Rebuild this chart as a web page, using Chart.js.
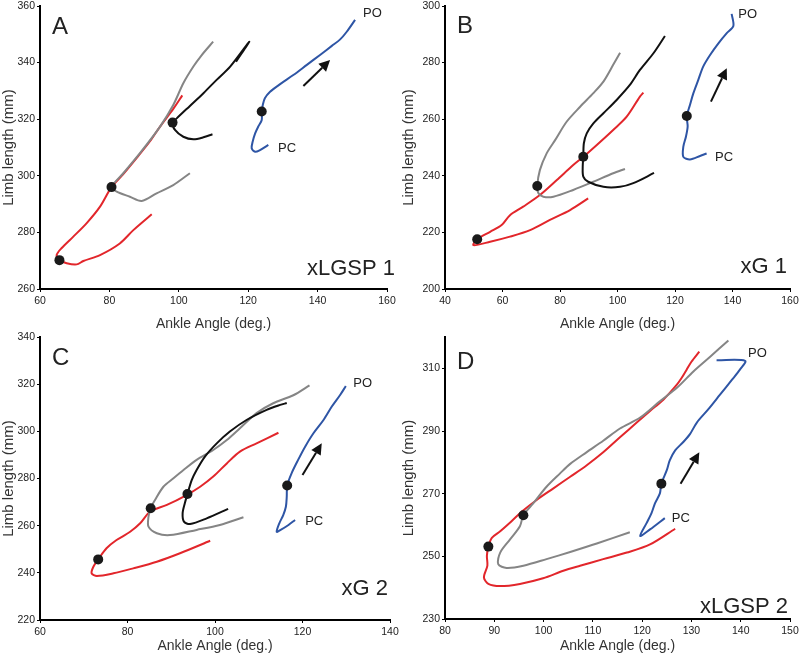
<!DOCTYPE html>
<html><head><meta charset="utf-8">
<script src="https://cdn.jsdelivr.net/npm/chart.js@4/dist/chart.umd.min.js"></script>
<style>
html,body{margin:0;padding:0;background:#fff;}
body{width:800px;height:664px;position:relative;overflow:hidden;}
canvas{position:absolute;display:block;}
</style></head>
<body>
<canvas id="cA" width="400" height="332" style="left:0;top:0"></canvas>
<canvas id="cB" width="400" height="332" style="left:400px;top:0"></canvas>
<canvas id="cC" width="400" height="332" style="left:0;top:332px"></canvas>
<canvas id="cD" width="400" height="332" style="left:400px;top:332px"></canvas>
<script>
const FONT = '"Liberation Sans", Arial, Helvetica, sans-serif';
const X_TITLE = 'Ankle Angle (deg.)';
const Y_TITLE = 'Limb length (mm)';

// ---------- Panel A (xLGSP 1) ----------
const A_xTicks = [60, 80, 100, 120, 140, 160];
const A_yTicks = [260, 280, 300, 320, 340, 360];
const A_red = [[101,328.4],[98.5,323.8],[94.6,317.4],[91.7,312.2],[88,306.5],[84,300.6],[80.6,296],[77.3,289.1],[73.4,283.2],[69.6,278.5],[66.2,274.4],[64.8,272],[65.6,270.2],[67.7,269.1],[70.6,268.7],[72.5,269.9],[77.3,272],[83,276.1],[86.9,280.8],[92.2,286.4]];
const A_gray = [[109.9,347.4],[106.5,342.5],[104.2,338.6],[101.3,332.7],[98.4,325],[94.6,317.4],[88.8,308],[84,300.9],[80.7,296.1],[82.1,294.4],[85.9,292.6],[89.3,291.1],[93.6,293.8],[98.4,296.7],[103.2,300.9]];
const A_black = [[109.7,314.7],[107.1,313.6],[104.2,312.9],[101.3,313.8],[98.9,316.2],[98.2,318.8],[99.4,320.3],[103.2,324.7],[107.1,329.2],[110.9,333.9],[114.8,338.6],[120.3,347.4],[116.5,340.3]];
const A_blue = [[150.8,355.1],[148.4,350.9],[146.5,348.2],[144.1,345.9],[140.7,342.7],[136.9,339.2],[133,335.6],[129.2,332.4],[126.3,329.7],[124.8,327.4],[124.2,325],[123.9,322.7],[123.9,319.7],[122.9,317.4],[122,315],[121.3,312.1],[121,309.7],[122,308.5],[123.4,309.1],[125.8,310.9]];
const A_dots = [[65.6,270.2],[80.6,296],[98.2,318.8],[123.9,322.7]];
const A_arrow = [[135.9,331.7],[143.6,340.9]];
const A_PO = [153.1,356.2];
const A_PC = [128.6,308.5];

// ---------- Panel B (xG 1) ----------
const B_xTicks = [40, 60, 80, 100, 120, 140, 160];
const B_yTicks = [200, 220, 240, 260, 280, 300];
const B_red = [[109,269.4],[107.8,268],[103.2,260.9],[98.5,256.2],[92.8,250.9],[88.1,246.7],[84.6,243.8],[78.9,238.5],[73,233.2],[67.2,229.1],[62.6,226.1],[59.7,222.6],[55.7,220.2],[51.2,217.6],[49.9,215.5],[55.7,216.7],[62.6,218.5],[69.6,220.8],[76.5,224.4],[83.5,227.9],[89.8,232]];
const B_gray = [[100.9,283.5],[98.5,279.2],[95.1,273.3],[91.6,269.2],[87,264.4],[82.3,259.1],[78.3,252.6],[75.4,248],[73,242],[72.1,236.4],[72.5,233.8],[74.2,232.6],[77.7,232.6],[84.6,235],[91.6,237.9],[98.5,240.9],[102.6,242.4]];
const B_black = [[116.5,289.4],[112.5,283.3],[107.8,277.4],[104.3,272.1],[99.7,266.8],[95.1,262.1],[91.6,258.5],[89.3,255],[88.3,251.5],[88.1,246.7],[87.9,243.2],[88.1,239.7],[89.8,237.9],[95.1,236.1],[100.9,236.1],[105.5,237.4],[112.7,241]];
const B_blue = [[139.7,297.2],[140.3,292.9],[138,290.4],[135.1,286.8],[132.2,282.7],[129.8,278.6],[128.1,273.9],[126.4,269.2],[125.2,265],[124.1,261.1],[124.4,257.4],[123.8,253.8],[122.9,250.3],[122.9,246.7],[125.2,245.8],[128.7,247],[131,247.9]];
const B_dots = [[51.2,217.6],[72.1,236.4],[88.1,246.7],[124.1,261.1]];
const B_arrow = [[132.5,266.2],[138,278]];
const B_PO = [142.0,295.7];
const B_PC = [133.9,245.3];

// ---------- Panel C (xG 2) ----------
const C_xTicks = [60, 80, 100, 120, 140];
const C_yTicks = [220, 240, 260, 280, 300, 320, 340];
const C_red = [[114.5,299.4],[109.5,294.9],[105.7,291.4],[102.7,286.4],[99.6,280.8],[96.6,276.5],[93.5,273],[89,268.8],[85.2,266],[82.9,261],[80.6,257.4],[77.5,253.9],[75.2,250.4],[73.3,245.7],[72.2,242.6],[71.8,239.8],[73,238.7],[76.8,239.8],[81.3,241.9],[86.7,244.7],[92,248.3],[98.9,253.6]];
const C_gray = [[121.6,319.5],[117.9,315.3],[113.3,311.9],[109.5,307.7],[105.7,301.3],[102.7,296.3],[99.6,292.1],[95.8,287.9],[92.8,283.6],[90.5,280.1],[88.2,276.5],[86.3,270.9],[85.3,267.4],[84.8,263.8],[84.8,259.6],[86.7,256.8],[89.7,256],[95.8,258.2],[101.1,260.3],[106.5,263.6]];
const C_black = [[116.4,312],[114.9,311.2],[111.8,309.1],[107.2,304.8],[103.4,299.9],[100.4,294.9],[97.7,289.3],[95.8,283.6],[94.7,279.4],[93.7,273.4],[93.1,269.5],[92.6,265.3],[92.9,261.7],[94.3,260.7],[98.1,263.1],[103,267.1]];
const C_blue = [[129.9,319.2],[128.6,315.4],[126.7,310.5],[124.8,304.8],[122.5,299.2],[120.6,293.5],[119,287.9],[117.5,282.2],[116.5,277],[116.4,272.3],[116.2,268],[115.6,264.5],[114.7,261],[114.1,257.4],[115,258.2],[116.8,260.3],[118.3,262.4]];
const C_dots = [[73.3,245.7],[85.3,267.4],[93.7,273.4],[116.5,277]];
const C_arrow = [[120,281.5],[124.4,294.9]];
const C_PO = [131.6,318.7];
const C_PC = [120.6,260.3];

// ---------- Panel D (xLGSP 2) ----------
const D_xTicks = [80, 90, 100, 110, 120, 130, 140, 150];
const D_yTicks = [230, 250, 270, 290, 310];
const D_red = [[131.6,315.3],[130,312.1],[129,309.5],[128,306.9],[127,304.7],[124.3,300],[121.6,296.4],[118.9,292.7],[115.5,288],[112.1,283.2],[108.7,279],[105.4,275.4],[102,271.7],[98.6,268],[95.6,264.3],[93.5,261.2],[91.2,258],[89.5,255.9],[88.8,253.1],[88.5,250.2],[88.6,247],[87.9,243.3],[88.8,241.2],[91.2,240.5],[95.2,241.2],[99.9,243],[104,245.4],[107.4,247],[112.1,249.1],[116.9,251.2],[121.6,253.8],[126.7,258.8]];
const D_gray = [[137.5,318.9],[133.8,313.7],[130.4,309],[127,303.7],[123.6,299.5],[119.6,294.3],[115.5,290.8],[112.1,286.9],[108.7,283.2],[105.4,279.5],[103.3,276.4],[100.6,272.2],[97.9,266.9],[95.9,263.1],[95.2,259.6],[93.2,255.4],[91.2,251.2],[90.8,247.5],[92.5,246.3],[95.9,247],[100.6,249.1],[105.4,251.4],[110.8,254.1],[117.5,257.7]];
const D_blue = [[135.1,312.6],[140.9,312.4],[139.8,309.5],[138.2,306.3],[135.8,301.6],[133.4,296.9],[131.1,292.7],[129.7,289],[128.3,286.4],[126.7,283.8],[125.6,280.6],[125,277.5],[123.9,273.2],[123.6,270.1],[122.6,266.9],[121.9,263.8],[120.9,260.6],[119.6,256.5],[121.6,258.6],[124.6,262.2]];
const D_dots = [[88.8,253.1],[95.9,263.1],[123.9,273.2]];
const D_arrow = [[127.8,273.2],[131.6,283.2]];
const D_PO = [141.5,313.5];
const D_PC = [126.0,261.0];

const RED = '#e2262b', GRAY = '#858585', BLACK = '#111111', BLUE = '#2e55a5';

const annotPlugin = {
  id: 'annot',
  afterDatasetsDraw(chart, args, o) {
    const ctx = chart.ctx, ca = chart.chartArea;
    const xs = chart.scales.x, ys = chart.scales.y;
    ctx.save();
    const x0 = xs.getPixelForValue(o.arrow[0][0]), y0 = ys.getPixelForValue(o.arrow[0][1]);
    const x1 = xs.getPixelForValue(o.arrow[1][0]), y1 = ys.getPixelForValue(o.arrow[1][1]);
    const ang = Math.atan2(y1 - y0, x1 - x0);
    const hl = 11, hw = 5.5;
    const bx = x1 - hl * Math.cos(ang), by = y1 - hl * Math.sin(ang);
    ctx.strokeStyle = '#111'; ctx.fillStyle = '#111'; ctx.lineWidth = 2;
    ctx.beginPath(); ctx.moveTo(x0, y0); ctx.lineTo(bx, by); ctx.stroke();
    ctx.beginPath(); ctx.moveTo(x1, y1);
    ctx.lineTo(bx + hw * Math.sin(ang), by - hw * Math.cos(ang));
    ctx.lineTo(bx - hw * Math.sin(ang), by + hw * Math.cos(ang));
    ctx.closePath(); ctx.fill();
    ctx.fillStyle = '#222';
    ctx.font = '13px ' + FONT;
    ctx.textAlign = 'left'; ctx.textBaseline = 'alphabetic';
    ctx.fillText('PO', xs.getPixelForValue(o.po[0]), ys.getPixelForValue(o.po[1]));
    ctx.fillText('PC', xs.getPixelForValue(o.pc[0]), ys.getPixelForValue(o.pc[1]));
    ctx.font = '24px ' + FONT;
    ctx.fillText(o.letter, ca.left + 12, ca.top + o.letterDy);
    ctx.textAlign = 'right';
    ctx.font = '22px ' + FONT;
    ctx.fillText(o.name, ca.right + o.nameDx, ca.bottom - o.nameDy);
    ctx.restore();
  }
};

function pts(arr) { return arr.map(p => ({x: p[0], y: p[1]})); }

function makePanel(id, p) {
  const lineDs = (data, color) => ({
    data: pts(data), showLine: true, borderColor: color, borderWidth: 2,
    pointRadius: 0, tension: 0.3, fill: false
  });
  new Chart(document.getElementById(id), {
    type: 'scatter',
    data: {
      datasets: [
        {data: pts(p.dots), showLine: false, pointRadius: 5, pointBackgroundColor: '#1a1a1a', pointBorderColor: '#1a1a1a', pointBorderWidth: 0},
        lineDs(p.blue, BLUE),
        ...(p.black ? [lineDs(p.black, BLACK)] : []),
        lineDs(p.gray, GRAY),
        lineDs(p.red, RED)
      ]
    },
    options: {
      responsive: false, animation: false,
      layout: {padding: {left: 0, top: p.top, right: 400 - p.right, bottom: 0}},
      plugins: {legend: {display: false}, tooltip: {enabled: false},
        annot: {arrow: p.arrow, po: p.po, pc: p.pc, letter: p.letter, name: p.name,
                letterDy: p.letterDy, nameDx: p.nameDx, nameDy: p.nameDy}},
      scales: {
        x: {
          type: 'linear', min: p.xTicks[0], max: p.xTicks[p.xTicks.length - 1],
          afterBuildTicks: s => { s.ticks = p.xTicks.map(v => ({value: v})); },
          afterFit: s => { s.height = 332 - p.bottom; s.paddingLeft = 0; s.paddingRight = 0; },
          ticks: {font: {family: FONT, size: 10.5}, color: '#222', padding: 3, maxRotation: 0, autoSkip: false},
          grid: {display: true, drawOnChartArea: false, drawTicks: true, tickLength: 3, color: '#000', lineWidth: 1},
          border: {display: true, color: '#000', width: 2},
          title: {display: true, text: X_TITLE, font: {family: FONT, size: 14}, color: '#333', padding: {top: 0, bottom: p.xTitlePad}}
        },
        y: {
          type: 'linear', min: p.yMin, max: p.yMax,
          afterBuildTicks: s => { s.ticks = p.yTicks.map(v => ({value: v})); },
          afterFit: s => { s.width = p.left; s.paddingTop = 0; s.paddingBottom = 0; },
          ticks: {font: {family: FONT, size: 10.5}, color: '#222', padding: 2, autoSkip: false},
          grid: {display: true, drawOnChartArea: false, drawTicks: true, tickLength: 3, color: '#000', lineWidth: 1},
          border: {display: true, color: '#000', width: 2},
          title: {display: true, text: Y_TITLE, font: {family: FONT, size: 15}, color: '#333', padding: {top: 0, bottom: 0}}
        }
      }
    },
    plugins: [annotPlugin]
  });
}

makePanel('cA', {xTicks: A_xTicks, yTicks: A_yTicks, yMin: 260, yMax: 360,
  red: A_red, gray: A_gray, black: A_black, blue: A_blue, dots: A_dots, arrow: A_arrow, po: A_PO, pc: A_PC,
  letter: 'A', name: 'xLGSP 1', left: 40, right: 387, top: 6, bottom: 289, xTitlePad: -1,
  letterDy: 28, nameDx: 8, nameDy: 14});
makePanel('cB', {xTicks: B_xTicks, yTicks: B_yTicks, yMin: 200, yMax: 300,
  red: B_red, gray: B_gray, black: B_black, blue: B_blue, dots: B_dots, arrow: B_arrow, po: B_PO, pc: B_PC,
  letter: 'B', name: 'xG 1', left: 45, right: 390, top: 6, bottom: 289, xTitlePad: -1,
  letterDy: 27, nameDx: -3, nameDy: 16});
makePanel('cC', {xTicks: C_xTicks, yTicks: C_yTicks, yMin: 220, yMax: 340,
  red: C_red, gray: C_gray, black: C_black, blue: C_blue, dots: C_dots, arrow: C_arrow, po: C_PO, pc: C_PC,
  letter: 'C', name: 'xG 2', left: 40, right: 390, top: 5, bottom: 288, xTitlePad: 9,
  letterDy: 28, nameDx: -2, nameDy: 25});
makePanel('cD', {xTicks: D_xTicks, yTicks: D_yTicks, yMin: 230, yMax: 320,
  red: D_red, gray: D_gray, black: null, blue: D_blue, dots: D_dots, arrow: D_arrow, po: D_PO, pc: D_PC,
  letter: 'D', name: 'xLGSP 2', left: 45, right: 390, top: 1, bottom: 287, xTitlePad: 9,
  letterDy: 32, nameDx: -2, nameDy: 6});
</script>
</body></html>
